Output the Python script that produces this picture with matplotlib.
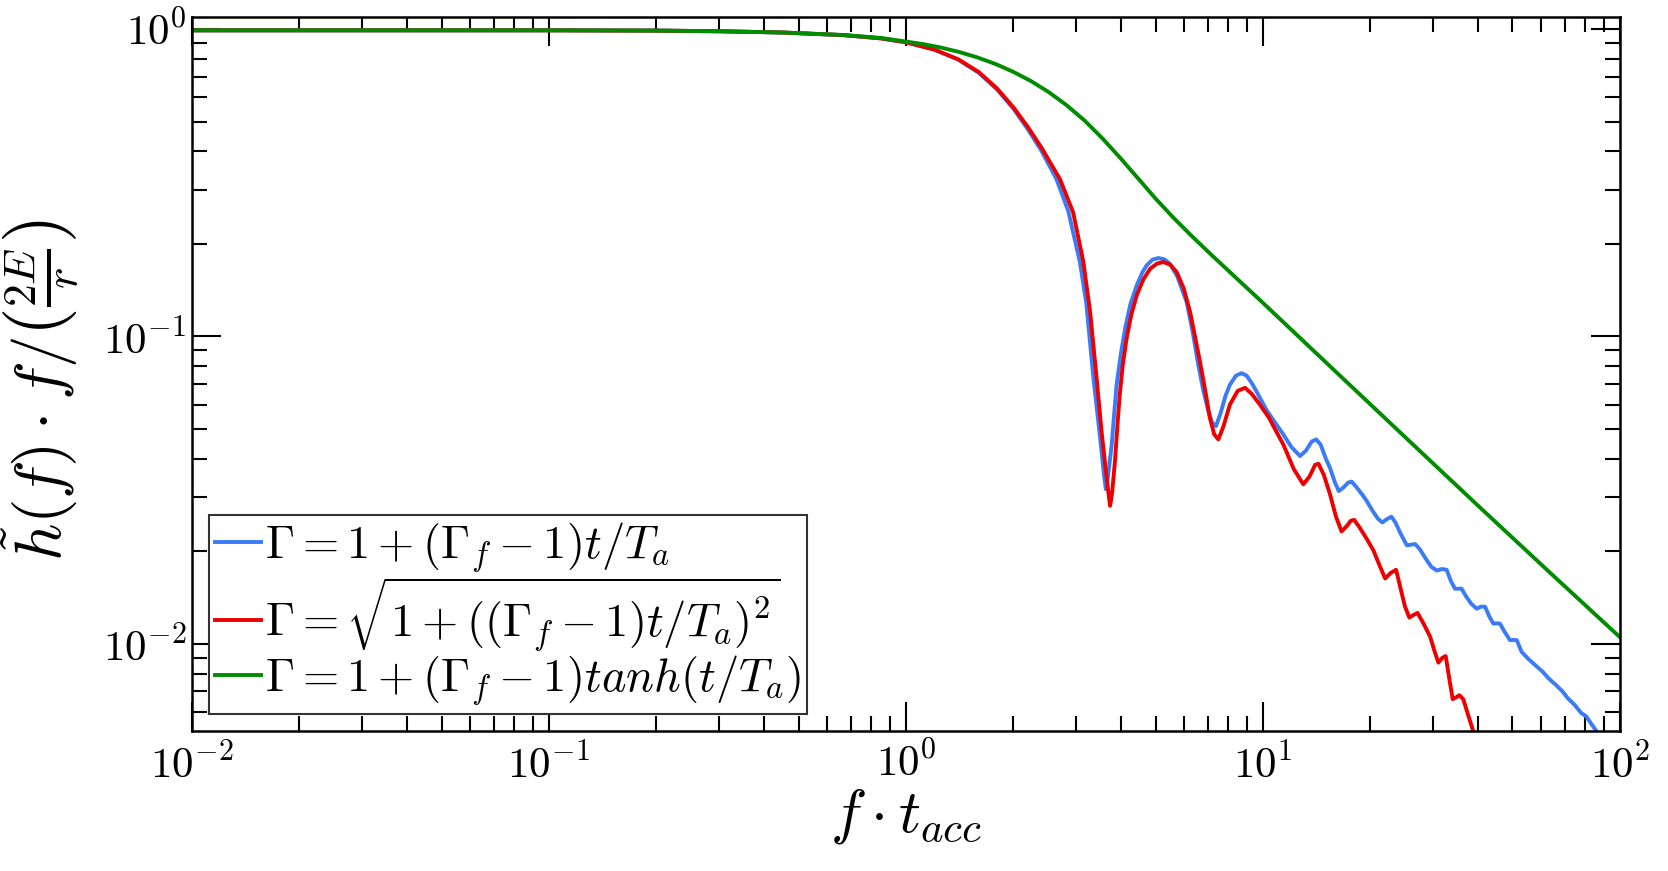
import matplotlib
matplotlib.use("Agg")
import matplotlib.pyplot as plt
from matplotlib.ticker import FixedLocator, FuncFormatter, LogLocator, NullFormatter
import numpy as np

plt.rcParams['mathtext.fontset'] = 'cm'
plt.rcParams['font.family'] = ['DejaVu Serif']

# ---- data ----
green_f = [0.01, 0.1, 0.2, 0.3, 0.45, 0.667, 0.85, 1.0, 1.122, 1.259, 1.413, 1.585, 1.778, 1.995,
           2.239, 2.512, 2.818, 3.162, 3.548, 3.981, 4.467, 5.012, 5.623, 6.31, 7.079, 7.943,
           10.0, 15.85, 25.12, 39.81, 63.1, 100.0]
green_h = [0.99, 0.99, 0.988, 0.983, 0.974, 0.956, 0.935, 0.91, 0.892, 0.869, 0.841, 0.808, 0.770,
           0.726, 0.677, 0.623, 0.565, 0.504, 0.441, 0.381, 0.3266, 0.280, 0.2427, 0.2123, 0.1868,
           0.1648, 0.1285, 0.0775, 0.0468, 0.0283, 0.0172, 0.0105]

blue_f = [0.01, 0.1, 0.2, 0.3, 0.45, 0.667, 0.85, 1.0, 1.2, 1.4, 1.6, 1.8, 2.0, 2.2, 2.4, 2.64,
          2.85, 3.07, 3.2, 3.35, 3.45, 3.53, 3.59, 3.63, 3.68, 3.77, 3.83, 3.89, 4.0, 4.11, 4.25,
          4.43, 4.6, 4.72, 4.9, 5.09, 5.3, 5.49, 5.75, 6.11, 6.35, 6.59, 6.8, 7.03, 7.2, 7.38,
          7.6, 7.85, 8.08, 8.4, 8.71, 9.0, 9.3, 9.59, 10.24, 10.8, 11.4, 12.0, 12.7, 13.2, 13.7,
          14.1, 14.5, 15.0, 15.4, 15.9, 16.3, 16.8, 17.3, 17.7, 18.2, 19.0, 19.5, 20.3, 21.0,
          21.6, 22.2, 22.9, 23.5, 24.3, 25.3, 26.0, 26.7, 27.5, 28.5, 29.6, 30.7, 31.7, 32.7,
          33.6, 34.5, 35.3, 36.0, 37.0, 38.3, 39.7, 40.8, 41.9, 43.0, 44.2, 45.1, 46.1, 47.6,
          49.2, 50.3, 51.4, 53.0, 55.5, 58.5, 60.8, 63.0, 66.5, 69.0, 71.4, 74.6, 77.9, 80.5,
          83.0, 85.9, 90.0]
blue_h = [0.99, 0.99, 0.988, 0.983, 0.974, 0.955, 0.932, 0.905, 0.857, 0.795, 0.72, 0.635, 0.55,
          0.47, 0.40, 0.3246, 0.255, 0.1745, 0.128, 0.0731, 0.054, 0.0423, 0.035, 0.0318, 0.035,
          0.0445, 0.056, 0.0696, 0.088, 0.106, 0.127, 0.1466, 0.162, 0.170, 0.1775, 0.1798, 0.178,
          0.172, 0.157, 0.1295, 0.104, 0.0807, 0.067, 0.0571, 0.0525, 0.051, 0.056, 0.064, 0.0696,
          0.0745, 0.0759, 0.0745, 0.0705, 0.0662, 0.0575, 0.0525, 0.048, 0.0437, 0.0408, 0.0425,
          0.0455, 0.0462, 0.0445, 0.040, 0.0374, 0.0335, 0.0314, 0.0322, 0.0334, 0.0337, 0.0325,
          0.0305, 0.0292, 0.027, 0.0255, 0.0248, 0.0254, 0.0259, 0.0248, 0.0228, 0.0209, 0.0210,
          0.0211, 0.0203, 0.019, 0.0178, 0.0173, 0.0175, 0.0174, 0.0160, 0.0151, 0.0151, 0.0151,
          0.0143, 0.0135, 0.0130, 0.0132, 0.0132, 0.0123, 0.01163, 0.01165, 0.01163, 0.0109,
          0.01027, 0.01029, 0.01027, 0.00942, 0.0089, 0.00843, 0.0081, 0.00773, 0.0073, 0.0070,
          0.00665, 0.00633, 0.00595, 0.0058, 0.0055, 0.0052, 0.0048]

red_f = [0.01, 0.1, 0.2, 0.3, 0.45, 0.667, 0.85, 1.0, 1.2, 1.4, 1.6, 1.8, 2.0, 2.2, 2.4, 2.70,
         2.94, 3.14, 3.28, 3.42, 3.53, 3.63, 3.69, 3.73, 3.78, 3.85, 3.91, 3.97, 4.05, 4.15, 4.28,
         4.43, 4.62, 4.83, 5.05, 5.26, 5.5, 5.73, 6.0, 6.25, 6.45, 6.66, 6.9, 7.10, 7.3, 7.50,
         7.75, 8.08, 8.5, 8.91, 9.3, 9.8, 10.4, 10.9, 11.4, 12.2, 12.97, 13.5, 14.0, 14.3, 14.8,
         15.4, 16.0, 16.6, 17.2, 17.6, 18.0, 18.6, 19.5, 20.4, 21.2, 22.0, 22.8, 23.6, 24.4, 25.0,
         25.7, 26.4, 27.1, 28.2, 29.4, 30.2, 31.0, 31.8, 32.5, 33.2, 34.0, 34.8, 35.5, 36.4, 37.5,
         38.8, 40.0]
red_h = [0.99, 0.99, 0.988, 0.983, 0.974, 0.955, 0.932, 0.905, 0.857, 0.797, 0.724, 0.64, 0.556,
         0.478, 0.41, 0.3246, 0.253, 0.1745, 0.120, 0.0731, 0.0492, 0.0365, 0.031, 0.0281, 0.031,
         0.0393, 0.051, 0.0646, 0.081, 0.0986, 0.118, 0.136, 0.153, 0.166, 0.1725, 0.1745, 0.171,
         0.162, 0.143, 0.120, 0.100, 0.0828, 0.066, 0.0543, 0.048, 0.0462, 0.051, 0.060, 0.0665,
         0.068, 0.065, 0.060, 0.0543, 0.049, 0.0445, 0.037, 0.033, 0.035, 0.0382, 0.0385, 0.0355,
         0.0307, 0.026, 0.0232, 0.0242, 0.0251, 0.0253, 0.024, 0.022, 0.0201, 0.018, 0.0163,
         0.0170, 0.0174, 0.0148, 0.0132, 0.01217, 0.0124, 0.0126, 0.0116, 0.01054, 0.0095,
         0.00868, 0.0090, 0.00912, 0.0078, 0.0066, 0.0067, 0.0068, 0.0066, 0.0059, 0.0052, 0.0046]

labels = [r'$\Gamma = 1+(\Gamma_f-1)t/T_a$',
          r'$\Gamma = \sqrt{1+((\Gamma_f-1)t/T_a)^2}$',
          r'$\Gamma = 1+(\Gamma_f-1)tanh(t/T_a)$']
colors = ['#3a7bf7', '#ee0000', '#008c00']

x_major = [1e-2, 1e-1, 1e0, 1e1, 1e2]
y_major = [1e-2, 1e-1, 1e0]

fig = plt.figure(figsize=(16.68, 8.71), dpi=100)
ax = fig.add_axes([0.1151, 0.1607, 0.8561, 0.8198])

lw = 2.8
ax.plot(blue_f, blue_h, color=colors[0], lw=lw, label=labels[0], solid_joinstyle='round')
ax.plot(red_f, red_h, color=colors[1], lw=lw, label=labels[1], solid_joinstyle='round')
ax.plot(green_f, green_h, color=colors[2], lw=lw, label=labels[2], solid_joinstyle='round')

ax.set_xscale('log')
ax.set_yscale('log')
ax.set_xlim(1e-2, 1e2)
ax.set_ylim(5.2e-3, 1.094)

fmt = FuncFormatter(lambda v, p: r'$10^{%d}$' % int(round(np.log10(v))))
ax.xaxis.set_major_locator(FixedLocator(x_major))
ax.yaxis.set_major_locator(FixedLocator(y_major))
ax.xaxis.set_major_formatter(fmt)
ax.yaxis.set_major_formatter(fmt)
ax.xaxis.set_minor_locator(LogLocator(base=10, subs=np.arange(2, 10), numticks=50))
ax.yaxis.set_minor_locator(LogLocator(base=10, subs=np.arange(2, 10), numticks=50))
ax.xaxis.set_minor_formatter(NullFormatter())
ax.yaxis.set_minor_formatter(NullFormatter())

ax.tick_params(which='both', direction='in', top=True, right=True, width=1.5, labelsize=31)
ax.tick_params(which='major', length=21)
ax.tick_params(which='minor', length=11)
ax.tick_params(axis='x', which='major', pad=9)
ax.tick_params(axis='y', which='major', pad=4)
for s in ax.spines.values():
    s.set_linewidth(1.8)

ax.set_xlabel(r'$f\cdot t_{acc}$', fontsize=44, va='center')
ax.xaxis.set_label_coords(0.5, -0.119)
ax.set_ylabel(r'$\tilde{h}(f)\cdot f/\left(\frac{2E}{r}\right)$', fontsize=47, va='center')
ax.yaxis.set_label_coords(-0.106, 0.478)

leg = ax.legend(loc='lower left', bbox_to_anchor=(0.0119, 0.0238), fontsize=33.5,
                frameon=True, fancybox=False, framealpha=1, edgecolor='#333333',
                handlelength=1.0, handletextpad=0.08, borderaxespad=0, borderpad=0.12,
                labelspacing=0.0)
leg.get_frame().set_linewidth(1.5)

fig.savefig('out.png', dpi=100)
